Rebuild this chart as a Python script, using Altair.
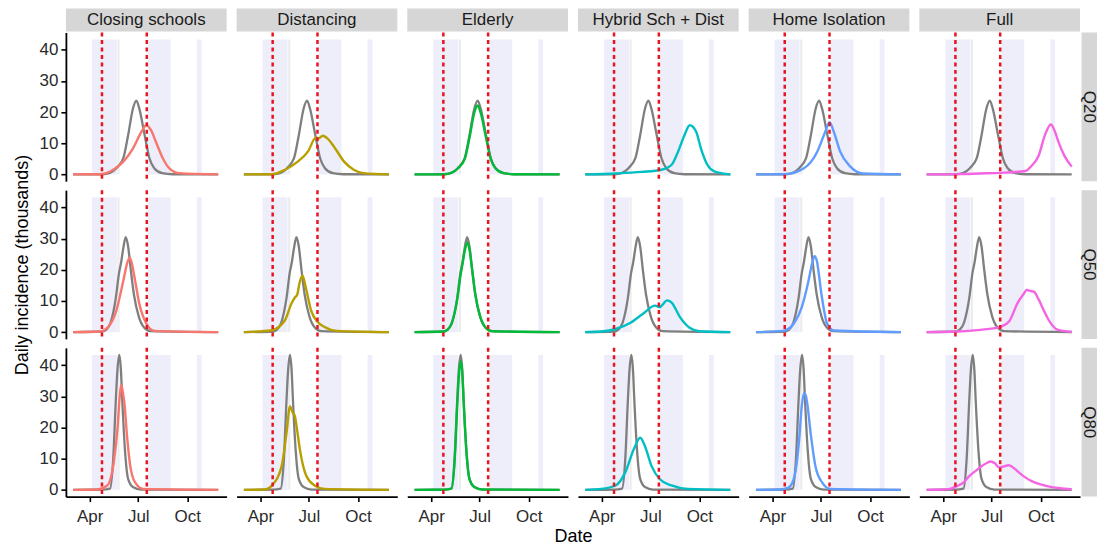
import altair as alt
import pandas as pd

FONT = "Liberation Sans"
START = pd.Timestamp("2020-03-01")

INTERVENTIONS = ["Closing schools", "Distancing", "Elderly", "Hybrid Sch + Dist", "Home Isolation", "Full"]
QUANTILES = ["Q20", "Q50", "Q80"]
COLORS = ["#F8766D", "#B79F00", "#00BA38", "#00BFC4", "#619CFF", "#F564E3"]

# intervention start / end (red dashed lines)
INTERVENTION_DATES = ["2020-04-24", "2020-07-17"]
# shaded periods
HOLIDAY_START = ["2020-04-05", "2020-07-19", "2020-10-19"]
HOLIDAY_END = ["2020-05-22", "2020-08-31", "2020-10-28"]
GREY_START = ["2020-05-23"]
GREY_END = ["2020-05-27"]

# ---- series: days since 1 March 2020, daily incidence (thousands) ----
BASE_Q20_DAY = [0, 55, 69, 81, 94, 103, 112, 118.5, 124, 134, 143, 152, 167, 186, 272]
BASE_Q20_VAL = [0, 0.05, 0.5, 2.0, 5.2, 12.6, 21.1, 23.7, 21.1, 12.6, 5.2, 2.0, 0.4, 0.05, 0]
BASE_Q50_DAY = [0, 55, 62, 70, 80, 86, 90, 94, 98.5, 103, 108, 114, 123, 133, 145, 272]
BASE_Q50_VAL = [0, 0.2, 0.8, 3.0, 11.0, 19.0, 22.5, 27.0, 30.5, 27.5, 20.0, 12.0, 5.0, 1.5, 0.3, 0]
BASE_Q80_DAY = [0, 55, 69, 75, 80, 83, 86.5, 89.5, 92, 97, 103, 112, 127, 272]
BASE_Q80_VAL = [0, 0.05, 0.4, 9.8, 28.9, 38.5, 43.3, 38.5, 28.9, 13.0, 3.5, 0.9, 0.1, 0]

CS_Q20_DAY = [0, 50, 75, 94, 112, 128, 137, 146, 155, 168, 180, 198, 272]
CS_Q20_VAL = [0, 0.05, 1.5, 4.1, 8.3, 13.7, 15.8, 14.2, 10.5, 5.2, 2.0, 0.4, 0]
CS_Q50_DAY = [0, 50, 63, 81, 94, 101, 106, 110, 115, 124, 137, 152, 272]
CS_Q50_VAL = [0, 0.2, 1.2, 7.0, 16.5, 22.0, 23.9, 22.0, 17.6, 9.1, 2.8, 0.4, 0]
CS_Q80_DAY = [0, 45, 64, 76, 83.5, 87, 90, 93, 96, 101, 107, 116, 131.5, 272]
CS_Q80_VAL = [0, 0.1, 1.4, 8.8, 20.4, 29.5, 33.7, 31.5, 27.8, 17.2, 7.7, 2.4, 0.3, 0]

DI_Q20_DAY = [0, 52, 77, 101, 120, 135, 140, 148, 157, 169, 188, 206, 224, 272]
DI_Q20_VAL = [0, 0.05, 1.5, 4.1, 7.3, 11.8, 11.6, 12.4, 11.5, 8.9, 4.1, 1.5, 0.4, 0]
DI_Q50_DAY = [0, 52, 77, 89, 96, 100, 104, 110, 116, 126, 138, 150.5, 175, 272]
DI_Q50_VAL = [0, 0.6, 3.8, 9.1, 11.2, 12.0, 15.5, 18.1, 14.4, 7.0, 3.3, 1.7, 0.4, 0]
DI_Q80_DAY = [0, 40, 52.5, 71, 80, 86.5, 91, 95.7, 100, 105, 117, 132.7, 151, 272]
DI_Q80_VAL = [0, 0.1, 1.4, 7.7, 18.3, 26.8, 25.0, 23.6, 19.0, 13.0, 4.5, 1.4, 0.3, 0]

EL_Q20_DAY = [0, 55, 69, 81, 94, 103, 112, 118.5, 124, 134, 143, 152, 167, 186, 272]
EL_Q20_VAL = [0, 0.05, 0.5, 1.9, 4.9, 11.8, 19.8, 22.1, 19.8, 11.8, 4.9, 1.9, 0.4, 0.05, 0]
EL_Q50_DAY = [0, 55, 62, 70, 80, 86, 90, 94, 99, 103, 108, 114, 123, 133, 145, 272]
EL_Q50_VAL = [0, 0.2, 0.8, 3.0, 10.5, 18.0, 22.0, 26.0, 28.8, 26.5, 20.0, 12.0, 5.0, 1.5, 0.3, 0]
EL_Q80_DAY = [0, 55, 69, 75, 80, 83, 86.5, 89.5, 92, 97, 103, 112, 127, 272]
EL_Q80_VAL = [0, 0.05, 0.4, 9.0, 27.0, 36.5, 41.3, 37.5, 28.5, 13.0, 3.5, 0.9, 0.1, 0]

HY_Q20_DAY = [0, 57, 106, 143, 162, 174, 186, 196, 208, 217, 229, 242, 272]
HY_Q20_VAL = [0, 0.3, 0.8, 1.5, 3.1, 7.3, 12.6, 15.8, 13.7, 8.3, 3.1, 1.0, 0]
HY_Q50_DAY = [0, 31, 57, 85, 109, 131, 140, 146, 153, 162, 177, 195, 214, 272]
HY_Q50_VAL = [0, 0.2, 1.0, 3.0, 6.0, 8.5, 8.0, 9.0, 10.2, 9.5, 5.0, 1.5, 0.3, 0]
HY_Q80_DAY = [0, 30, 57, 75, 91, 103, 112, 124.4, 140, 161.7, 192, 272]
HY_Q80_VAL = [0, 0.3, 1.4, 5.6, 13.0, 16.7, 14.0, 7.6, 3.4, 1.4, 0.3, 0]

HI_Q20_DAY = [0, 53, 90, 115, 130, 138, 146, 158, 177, 201, 272]
HI_Q20_VAL = [0, 0.05, 2.0, 7.3, 13.7, 16.8, 13.7, 7.3, 2.5, 0.3, 0]
HI_Q50_DAY = [0, 53, 72, 86, 98, 106, 110, 114, 123, 133, 146, 272]
HI_Q50_VAL = [0, 0.5, 3.0, 8.0, 16.0, 22.5, 24.4, 23.0, 12.0, 3.0, 0.5, 0]
HI_Q80_DAY = [0, 45, 60, 70, 76, 81, 86, 90, 93, 96, 102.5, 111.6, 124, 139.5, 272]
HI_Q80_VAL = [0, 0.1, 0.6, 3.0, 8.0, 16.0, 27.0, 31.0, 30.5, 28.0, 18.3, 7.6, 2.4, 0.3, 0]

FU_Q20_DAY = [0, 60, 100, 138, 185, 197, 210, 222, 233, 240, 247, 258, 272]
FU_Q20_VAL = [0, 0.1, 0.3, 0.5, 1.1, 2.8, 6.0, 12.7, 16.0, 14.0, 10.5, 6.1, 2.5]
FU_Q50_DAY = [0, 59, 105, 140, 155, 171, 181, 188, 195, 201, 210, 221, 233, 245, 272]
FU_Q50_VAL = [0, 0.2, 0.8, 1.8, 3.5, 9.5, 12.0, 13.5, 13.2, 13.0, 10.5, 6.5, 2.8, 0.8, 0.1]
FU_Q80_DAY = [0, 40, 56, 70, 80, 95, 105, 113, 120, 128, 136, 142, 154, 162, 173, 185, 197, 212, 228, 250, 272]
FU_Q80_VAL = [0, 0.2, 1.1, 2.5, 4.4, 6.5, 7.8, 8.6, 9.1, 8.5, 7.2, 7.4, 7.9, 7.2, 5.6, 4.0, 2.8, 1.8, 1.1, 0.5, 0.2]

BASELINE = {
    "Q20": (BASE_Q20_DAY, BASE_Q20_VAL),
    "Q50": (BASE_Q50_DAY, BASE_Q50_VAL),
    "Q80": (BASE_Q80_DAY, BASE_Q80_VAL),
}
SCENARIOS = {
    "Closing schools": [(CS_Q20_DAY, CS_Q20_VAL), (CS_Q50_DAY, CS_Q50_VAL), (CS_Q80_DAY, CS_Q80_VAL)],
    "Distancing": [(DI_Q20_DAY, DI_Q20_VAL), (DI_Q50_DAY, DI_Q50_VAL), (DI_Q80_DAY, DI_Q80_VAL)],
    "Elderly": [(EL_Q20_DAY, EL_Q20_VAL), (EL_Q50_DAY, EL_Q50_VAL), (EL_Q80_DAY, EL_Q80_VAL)],
    "Hybrid Sch + Dist": [(HY_Q20_DAY, HY_Q20_VAL), (HY_Q50_DAY, HY_Q50_VAL), (HY_Q80_DAY, HY_Q80_VAL)],
    "Home Isolation": [(HI_Q20_DAY, HI_Q20_VAL), (HI_Q50_DAY, HI_Q50_VAL), (HI_Q80_DAY, HI_Q80_VAL)],
    "Full": [(FU_Q20_DAY, FU_Q20_VAL), (FU_Q50_DAY, FU_Q50_VAL), (FU_Q80_DAY, FU_Q80_VAL)],
}


def to_iso(d):
    return (START + pd.Timedelta(days=d)).strftime("%Y-%m-%dT%H:%M:%SZ")


def series_df(days, vals):
    return pd.DataFrame({"date": [to_iso(d) for d in days], "value": vals})


ALL_VALS = []
for _d, _v in BASELINE.values():
    ALL_VALS += _v
for _lst in SCENARIOS.values():
    for _d, _v in _lst:
        ALL_VALS += _v
YMAX = max(ALL_VALS)

bands_df = pd.DataFrame({
    "start": [s + "T00:00:00Z" for s in HOLIDAY_START],
    "end": [e + "T00:00:00Z" for e in HOLIDAY_END],
    "ymin": 0.0, "ymax": YMAX,
})
grey_df = pd.DataFrame({
    "start": [s + "T00:00:00Z" for s in GREY_START],
    "end": [e + "T00:00:00Z" for e in GREY_END],
    "ymin": 0.0, "ymax": YMAX,
})
vline_df = pd.DataFrame({"date": [d + "T00:00:00Z" for d in INTERVENTION_DATES]})

W, H = 161, 149
RED = "#E8141E"

xscale = alt.Scale(type="utc", domain=[
    alt.DateTime(year=2020, month=2, date=16, hours=8, utc=True),
    alt.DateTime(year=2020, month=12, date=13, hours=16, utc=True),
])
yscale = alt.Scale(domain=[-2.17, 45.57], nice=False, zero=False)

axis_common = dict(grid=False, domainColor="black", domainWidth=1.8, tickColor="black",
                   tickWidth=1.6, tickSize=5, labelFont=FONT, labelFontSize=17,
                   labelColor="#2A2A2A", titleFont=FONT, titleFontSize=18,
                   titleFontWeight="normal", titleColor="black")


def x_axis(r, c):
    if r != 2:
        return None
    kw = dict(axis_common)
    kw.update(values=[alt.DateTime(year=2020, month=4, date=1, utc=True),
                      alt.DateTime(year=2020, month=7, date=1, utc=True),
                      alt.DateTime(year=2020, month=10, date=1, utc=True)],
              labelExpr="utcFormat(datum.value, '%b')", labelPadding=7)
    if c == 2:
        kw.update(title="Date", titleX=W + 5, titlePadding=3)
    else:
        kw.update(title=None)
    return alt.Axis(**kw)


def y_axis(r, c):
    if c != 0:
        return None
    kw = dict(axis_common)
    kw.update(values=[0, 10, 20, 30, 40], labelPadding=3)
    if r == 1:
        kw.update(title="Daily incidence (thousands)", titlePadding=8)
    else:
        kw.update(title=None)
    return alt.Axis(**kw)


def panel(r, c):
    name = INTERVENTIONS[c]
    q = QUANTILES[r]
    xa = x_axis(r, c)
    ya = y_axis(r, c)

    def X(f):
        return alt.X(f, type="temporal", scale=xscale, axis=xa)

    def Y(f):
        return alt.Y(f, type="quantitative", scale=yscale, axis=ya)

    bands = alt.Chart(bands_df).mark_rect(color="#EEEEFB").encode(
        x=X("start"), x2="end", y=Y("ymin"), y2="ymax")
    grey = alt.Chart(grey_df).mark_rect(color="#ECECEF").encode(
        x=X("start"), x2="end", y=Y("ymin"), y2="ymax")
    bd, bv = BASELINE[q]
    base = alt.Chart(series_df(bd, bv)).mark_line(
        color="#7F7F7F", strokeWidth=2.3, interpolate="monotone").encode(
        x=X("date"), y=Y("value"))
    sd, sv = SCENARIOS[name][r]
    scen = alt.Chart(series_df(sd, sv)).mark_line(
        color=COLORS[c], strokeWidth=2.4, interpolate="monotone").encode(
        x=X("date"), y=Y("value"))
    vlines = alt.Chart(vline_df).mark_rule(
        color=RED, strokeWidth=2.5, strokeDash=[4, 3.5]).encode(x=X("date"))
    layers = [bands, grey, base, scen, vlines]

    if r == 0:
        lab = pd.DataFrame({"label": [name]})
        layers.append(alt.Chart(lab).mark_rect(color="#D6D6D6").encode(
            x=alt.value(0), x2=alt.value(W), y=alt.value(-24), y2=alt.value(-1)))
        layers.append(alt.Chart(lab).mark_text(
            font=FONT, fontSize=17, color="#1A1A1A", baseline="middle", align="center").encode(
            x=alt.value(W / 2), y=alt.value(-12), text="label:N"))
    if c == 5:
        lab = pd.DataFrame({"label": [q]})
        layers.append(alt.Chart(lab).mark_rect(color="#D6D6D6").encode(
            x=alt.value(W + 1.5), x2=alt.value(W + 17), y=alt.value(0), y2=alt.value(H)))
        layers.append(alt.Chart(lab).mark_text(
            font=FONT, fontSize=17, color="#1A1A1A", baseline="middle", align="center",
            angle=90).encode(x=alt.value(W + 9.25), y=alt.value(H / 2), text="label:N"))

    return alt.layer(*layers).properties(width=W, height=H)


panels = [panel(r, c) for r in range(3) for c in range(6)]

chart = alt.concat(
    *panels, columns=6, spacing={"row": 9, "column": 10}, bounds="flush"
).properties(
    padding={"left": 5, "top": 0, "right": 0, "bottom": 0}
).configure_view(stroke=None)

chart.save("out.html", embed_options={"renderer": "svg", "actions": False})
